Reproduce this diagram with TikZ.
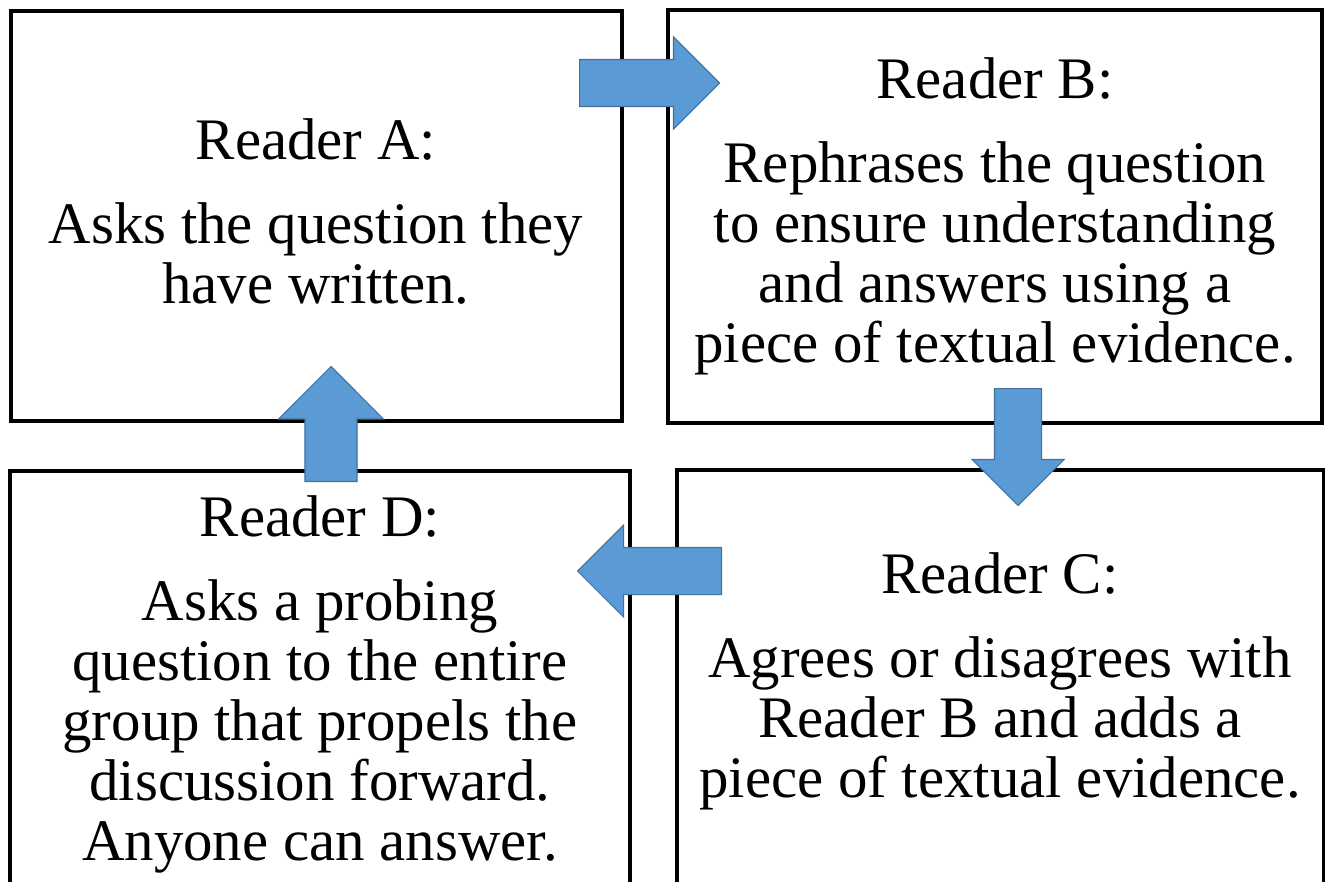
\documentclass[tikz,border=0pt]{standalone}
\usepackage{fontspec}
\setmainfont{Liberation Serif}
\usetikzlibrary{shapes.arrows}

\definecolor{arrowfill}{HTML}{5B9BD5}
\definecolor{arrowline}{HTML}{41719C}

\tikzset{
  readerbox/.style = {draw, line width=2pt},
  readertext/.style = {anchor=base, align=center, inner sep=0pt,
    font=\fontsize{33.5}{34.14}\selectfont},
  blockarrow/.style = {single arrow, draw=arrowline, fill=arrowfill,
    line width=0.6pt, anchor=tail, inner xsep=0pt, inner ysep=0.46cm,
    minimum width=0pt, single arrow head extend=0.45cm}
}

\begin{document}
\begin{tikzpicture}[x=0.02cm, y=-0.02cm]
\useasboundingbox (0,0) rectangle (1325,882);
\clip (0,0) rectangle (1325,882);

% the four reader boxes
\draw[readerbox] (11,11) rectangle (622,421);
\draw[readerbox] (668,10) rectangle (1322,423);
\draw[readerbox] (677,470) rectangle (1324,900);
\draw[readerbox] (10,471) rectangle (630,900);

% text sits on the baseline of its last line
\node[readertext] (txtA) at (316,303) {Reader A:\\[0.48cm]
  Asks the question they\\ have written.};
\node[readertext] (txtB) at (995,362) {Reader B:\\[0.48cm]
  Rephrases the question\\ to ensure understanding\\
  and answers using a\\ piece of textual evidence.};
\node[readertext] (txtC) at (1000,797) {Reader C:\\[0.48cm]
  Agrees or disagrees with\\ Reader B and adds a\\
  piece of textual evidence.};
\node[readertext] (txtD) at (320,860) {Reader D:\\[0.48cm]
  Asks a probing\\ question to the entire\\ group that propels the\\
  discussion forward.\\ Anyone can answer.};

% block arrows going round
\node[blockarrow, minimum height=2.8cm] (arrAB) at (579,83) {};
\node[blockarrow, minimum height=2.34cm, rotate=-90] (arrBC) at (1018,388) {};
\node[blockarrow, minimum height=2.88cm, rotate=180] (arrCD) at (722,571) {};
\node[blockarrow, minimum height=2.3cm, rotate=90, inner ysep=0.51cm,
  single arrow head extend=0.53cm] (arrDA) at (331,482) {};
\end{tikzpicture}
\end{document}
